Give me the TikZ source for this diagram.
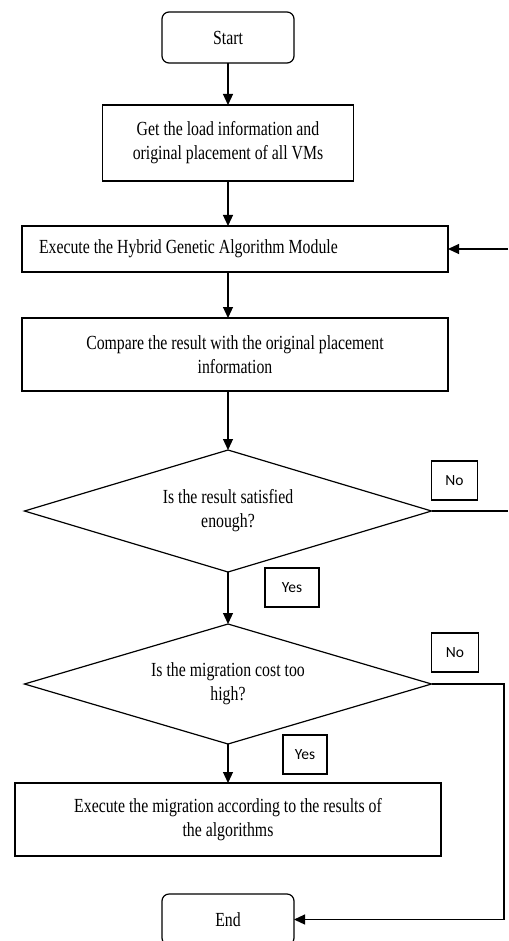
\documentclass[tikz,border=0pt]{standalone}
\usepackage{fontspec}
\setmainfont[FakeStretch=0.79]{Liberation Serif}
\newfontfamily\tagfont{Carlito}
\usetikzlibrary{arrows.meta,positioning,shapes.geometric}

\begin{document}
\begin{tikzpicture}[
    x=1pt, y=-1pt,
    font=\fontsize{20}{24}\selectfont,
    every path/.style={line width=1.2pt},
    every node/.style={outer sep=0pt},
    term/.style={draw, rounded corners=7pt, minimum width=132pt, minimum height=51pt},
    proc/.style={draw, align=center, minimum height=46pt, inner sep=0pt},
    decision/.style={draw, diamond, aspect=3.3, align=center, inner sep=0pt, minimum width=407pt, minimum height=122pt},
    tag/.style={draw, font=\tagfont\fontsize{15.5}{18}\selectfont, minimum height=39pt, inner sep=0pt},
    flow/.style={-{Triangle[length=11pt, width=10pt]}}
]
    \useasboundingbox (0,0) rectangle (508,941);
    \node[term] (start) at (228,37.5) {Start};
    \node[proc, below=42pt of start, minimum width=251pt, minimum height=76pt] (load) {Get the load information and\\original placement of all VMs};
    \node[proc, below=45pt of load, xshift=7pt, minimum width=426pt, text width=392pt, align=flush left] (hga) {Execute the Hybrid Genetic Algorithm Module};
    \node[proc, below=46pt of hga, minimum width=426pt, minimum height=73pt] (compare) {Compare the result with the original placement\\information};
    \node[decision, below=59pt of compare, xshift=-7pt] (sat) {Is the result satisfied\\enough?};
    \node[decision, below=52pt of sat, minimum height=120pt] (cost) {Is the migration cost too\\high?};
    \node[proc, below=39pt of cost, minimum width=426pt, minimum height=73pt] (migrate) {Execute the migration according to the results of\\the algorithms};
    \node[term, below=38pt of migrate] (end) {End};
    % yes / no labels
    \node[tag, above right=11pt and 0pt of sat.east, minimum width=46pt] (no1) {No};
    \node[tag, above right=17pt and 37pt of cost.north, minimum width=54pt] (yes1) {Yes};
    \node[tag, above right=12pt and 0pt of cost.east, minimum width=47pt] (no2) {No};
    \node[tag, above right=9pt and 55pt of migrate.north, minimum width=44pt] (yes2) {Yes};
    \coordinate (rim) at (508,0);
    \coordinate (back) at (504,0);
    \draw[flow] (start) -- (load);
    \draw[flow] (load.south) -- (load.south |- hga.north);
    \draw[flow] (load.south |- hga.south) -- (load.south |- compare.north);
    \draw[flow] (load.south |- compare.south) -- (sat.north);
    \draw[flow] (sat) -- (cost);
    \draw[flow] (cost) -- (migrate);
    \draw (sat.east) -- (sat.east -| rim);
    \draw[flow] (hga.east -| rim) -- (hga.east);
    \draw[flow] (cost.east) -- (cost.east -| back) |- (end.east);
\end{tikzpicture}
\end{document}
